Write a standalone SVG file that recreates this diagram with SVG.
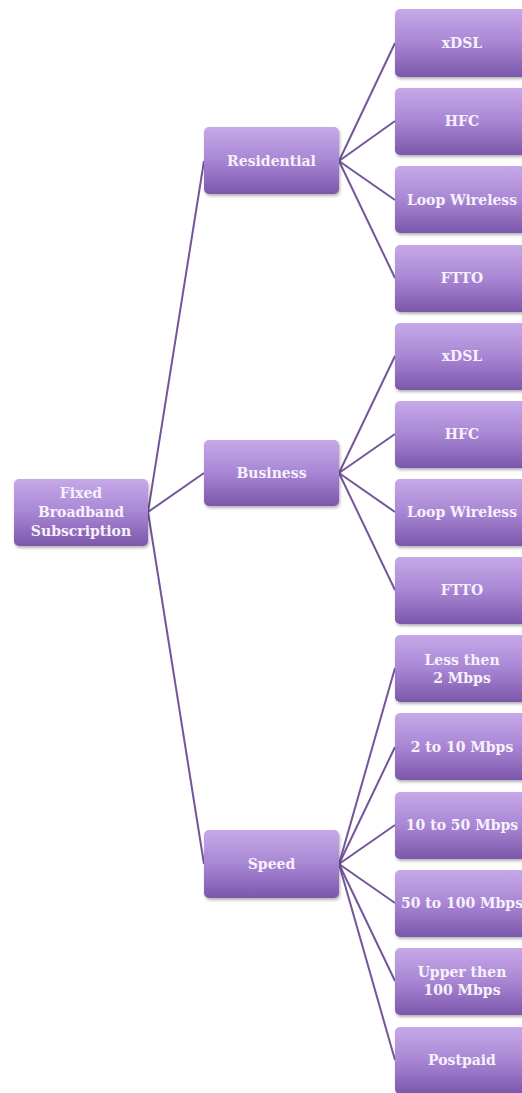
<svg xmlns="http://www.w3.org/2000/svg" width="522" height="1093" viewBox="0 0 522 1093">
<style>
.box{fill:url(#g);filter:url(#sh)}
.t{font-family:"DejaVu Serif","Liberation Serif",serif;font-weight:bold;font-size:14px;fill:#f7f1fc;text-anchor:middle;dominant-baseline:central}
.c{stroke:#74559c;stroke-width:2;fill:none}
</style>
<defs>
<linearGradient id="g" x1="0" y1="0" x2="0" y2="1">
<stop offset="0" stop-color="#c6a9e8"/>
<stop offset="0.5" stop-color="#a886d4"/>
<stop offset="1" stop-color="#7b56aa"/>
</linearGradient>
<filter id="sh" x="-10%" y="-10%" width="125%" height="130%">
<feDropShadow dx="1" dy="2" stdDeviation="1.5" flood-color="#000" flood-opacity="0.3"/>
</filter>
</defs>
<g id="connectors">
<line class="c" x1="148" y1="512" x2="204" y2="161"/>
<line class="c" x1="148" y1="512" x2="204" y2="473"/>
<line class="c" x1="148" y1="512" x2="204" y2="864"/>
<line class="c" x1="339" y1="161" x2="395" y2="43"/>
<line class="c" x1="339" y1="161" x2="395" y2="121"/>
<line class="c" x1="339" y1="161" x2="395" y2="200"/>
<line class="c" x1="339" y1="161" x2="395" y2="278"/>
<line class="c" x1="339" y1="473" x2="395" y2="356"/>
<line class="c" x1="339" y1="473" x2="395" y2="434"/>
<line class="c" x1="339" y1="473" x2="395" y2="512"/>
<line class="c" x1="339" y1="473" x2="395" y2="590"/>
<line class="c" x1="339" y1="864" x2="395" y2="668"/>
<line class="c" x1="339" y1="864" x2="395" y2="747"/>
<line class="c" x1="339" y1="864" x2="395" y2="825"/>
<line class="c" x1="339" y1="864" x2="395" y2="903"/>
<line class="c" x1="339" y1="864" x2="395" y2="981"/>
<line class="c" x1="339" y1="864" x2="395" y2="1060"/>
</g>
<g id="root"><rect class="box" x="14" y="479" width="134" height="67" rx="5"/><text class="t" x="81" y="493">Fixed</text><text class="t" x="81" y="512">Broadband</text><text class="t" x="81" y="531">Subscription</text></g>
<g id="residential"><rect class="box" x="204" y="127" width="135" height="67" rx="5"/><text class="t" x="271.5" y="161">Residential</text></g>
<g id="business"><rect class="box" x="204" y="440" width="135" height="66" rx="5"/><text class="t" x="271.5" y="473">Business</text></g>
<g id="speed"><rect class="box" x="204" y="830" width="135" height="68" rx="5"/><text class="t" x="271.5" y="864">Speed</text></g>
<g id="r-xdsl"><rect class="box" x="395" y="9" width="134" height="68" rx="5"/><text class="t" x="462" y="43">xDSL</text></g>
<g id="r-hfc"><rect class="box" x="395" y="88" width="134" height="67" rx="5"/><text class="t" x="462" y="121">HFC</text></g>
<g id="r-loop"><rect class="box" x="395" y="166" width="134" height="67" rx="5"/><text class="t" x="462" y="200">Loop Wireless</text></g>
<g id="r-ftto"><rect class="box" x="395" y="245" width="134" height="67" rx="5"/><text class="t" x="462" y="278">FTTO</text></g>
<g id="b-xdsl"><rect class="box" x="395" y="323" width="134" height="67" rx="5"/><text class="t" x="462" y="356">xDSL</text></g>
<g id="b-hfc"><rect class="box" x="395" y="401" width="134" height="67" rx="5"/><text class="t" x="462" y="434">HFC</text></g>
<g id="b-loop"><rect class="box" x="395" y="479" width="134" height="67" rx="5"/><text class="t" x="462" y="512">Loop Wireless</text></g>
<g id="b-ftto"><rect class="box" x="395" y="557" width="134" height="67" rx="5"/><text class="t" x="462" y="590">FTTO</text></g>
<g id="s-less2"><rect class="box" x="395" y="635" width="134" height="67" rx="5"/><text class="t" x="462" y="660">Less then</text><text class="t" x="462" y="678">2 Mbps</text></g>
<g id="s-2to10"><rect class="box" x="395" y="713" width="134" height="67" rx="5"/><text class="t" x="462" y="747">2 to 10 Mbps</text></g>
<g id="s-10to50"><rect class="box" x="395" y="792" width="134" height="67" rx="5"/><text class="t" x="462" y="825">10 to 50 Mbps</text></g>
<g id="s-50to100"><rect class="box" x="395" y="870" width="134" height="67" rx="5"/><text class="t" x="462" y="903">50 to 100 Mbps</text></g>
<g id="s-upper"><rect class="box" x="395" y="948" width="134" height="67" rx="5"/><text class="t" x="462" y="972">Upper then</text><text class="t" x="462" y="990">100 Mbps</text></g>
<g id="s-postpaid"><rect class="box" x="395" y="1027" width="134" height="67" rx="5"/><text class="t" x="462" y="1060">Postpaid</text></g>
</svg>
